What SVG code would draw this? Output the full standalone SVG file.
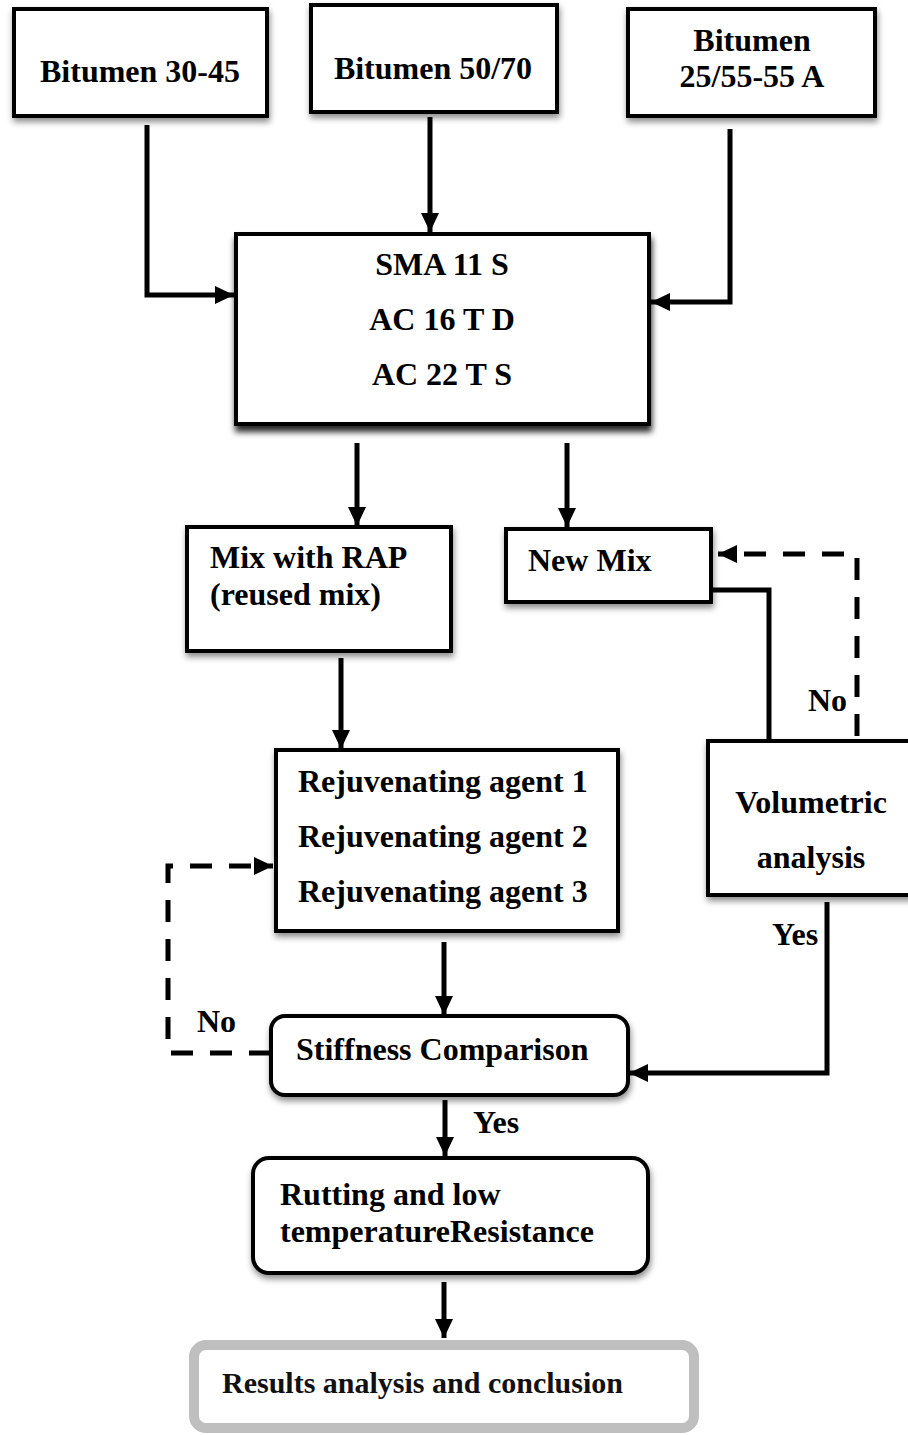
<svg xmlns="http://www.w3.org/2000/svg" width="908" height="1435" viewBox="0 0 908 1435">
<defs>
<style>
.box{fill:#fff;stroke:#000;stroke-width:4;filter:url(#sh)}
.t{font-family:"Liberation Serif","Times New Roman",serif;font-weight:bold;font-size:32px;fill:#000}
.c{text-anchor:middle}
.ln{fill:none;stroke:#000;stroke-width:5}
.dash{fill:none;stroke:#000;stroke-width:5;stroke-dasharray:22 17}
</style>
<filter id="sh" x="-10%" y="-10%" width="130%" height="140%">
<feDropShadow dx="1" dy="4" stdDeviation="3" flood-color="#000" flood-opacity="0.45"/>
</filter>
<filter id="sh2" x="-10%" y="-10%" width="130%" height="140%">
<feDropShadow dx="1" dy="6" stdDeviation="3" flood-color="#000" flood-opacity="0.85"/>
</filter>
<marker id="arr" markerUnits="userSpaceOnUse" markerWidth="20" markerHeight="20" refX="19" refY="9" orient="auto" viewBox="0 0 20 18">
<path d="M0,0 L19,9 L0,18 z" fill="#000"/>
</marker>
</defs>
<rect width="908" height="1435" fill="#fff"/>

<g id="connectors">
<polyline class="ln" points="147,125 147,295 234,295" marker-end="url(#arr)"/>
<line class="ln" x1="430" y1="117" x2="430" y2="232" marker-end="url(#arr)"/>
<polyline class="ln" points="730,129 730,302 651,302" marker-end="url(#arr)"/>
<line class="ln" x1="357" y1="443" x2="357" y2="526" marker-end="url(#arr)"/>
<line class="ln" x1="567" y1="443" x2="567" y2="527" marker-end="url(#arr)"/>
<line class="ln" x1="341" y1="658" x2="341" y2="749" marker-end="url(#arr)"/>
<polyline class="ln" points="711,590 769,590 769,742"/>
<polyline class="dash" points="857,736 857,554 718,554" marker-end="url(#arr)"/>
<line class="ln" x1="444" y1="942" x2="444" y2="1015" marker-end="url(#arr)"/>
<polyline class="ln" points="827,902 827,1073 629,1073" marker-end="url(#arr)"/>
<polyline class="dash" points="271,1053 168,1053 168,866 273,866" marker-end="url(#arr)"/>
<line class="ln" x1="445" y1="1100" x2="445" y2="1156" marker-end="url(#arr)"/>
<line class="ln" x1="444" y1="1282" x2="444" y2="1338" marker-end="url(#arr)"/>
<text class="t" x="808" y="711">No</text>
<text class="t" x="772" y="945">Yes</text>
<text class="t" x="197" y="1032">No</text>
<text class="t" x="473" y="1133">Yes</text>
</g>

<g id="bitumen3045">
<rect class="box" x="14" y="9" width="253" height="107"/>
<text class="t c" x="140" y="82">Bitumen 30-45</text>
</g>
<g id="bitumen5070">
<rect class="box" x="311" y="5" width="246" height="107"/>
<text class="t c" x="433" y="79">Bitumen 50/70</text>
</g>
<g id="bitumen2555">
<rect class="box" x="628" y="9" width="247" height="107"/>
<text class="t c" x="752" y="51">Bitumen</text>
<text class="t c" x="752" y="87">25/55-55 A</text>
</g>
<g id="mixes">
<rect x="236" y="234" width="413" height="190" fill="#fff" stroke="#000" stroke-width="4" filter="url(#sh2)"/>
<text class="t c" x="442" y="275">SMA 11 S</text>
<text class="t c" x="442" y="330">AC 16 T D</text>
<text class="t c" x="442" y="385">AC 22 T S</text>
</g>
<g id="mixrap">
<rect class="box" x="187" y="527" width="264" height="124"/>
<text class="t" x="210" y="568">Mix with RAP</text>
<text class="t" x="210" y="605">(reused mix)</text>
</g>
<g id="newmix">
<rect class="box" x="506" y="529" width="205" height="73"/>
<text class="t" x="528" y="571">New Mix</text>
</g>
<g id="rejuv">
<rect class="box" x="276" y="750" width="342" height="181"/>
<text class="t" x="298" y="792">Rejuvenating agent 1</text>
<text class="t" x="298" y="847">Rejuvenating agent 2</text>
<text class="t" x="298" y="902">Rejuvenating agent 3</text>
</g>
<g id="volumetric">
<rect class="box" x="708" y="741" width="212" height="154"/>
<text class="t c" x="811" y="813">Volumetric</text>
<text class="t c" x="811" y="868">analysis</text>
</g>
<g id="stiffness">
<rect class="box" x="271" y="1016" width="357" height="79" rx="14"/>
<text class="t" x="296" y="1060">Stiffness Comparison</text>
</g>
<g id="rutting">
<rect class="box" x="253" y="1158" width="395" height="115" rx="16"/>
<text class="t" x="280" y="1205">Rutting and low</text>
<text class="t" x="280" y="1242">temperatureResistance</text>
</g>
<g id="results">
<rect x="194" y="1345" width="500" height="83" rx="12" fill="#fff" stroke="#bfbfbf" stroke-width="10"/>
<text class="t" x="222" y="1393" font-size="30" style="font-size:30px;fill:#111">Results analysis and conclusion</text>
</g>
</svg>
